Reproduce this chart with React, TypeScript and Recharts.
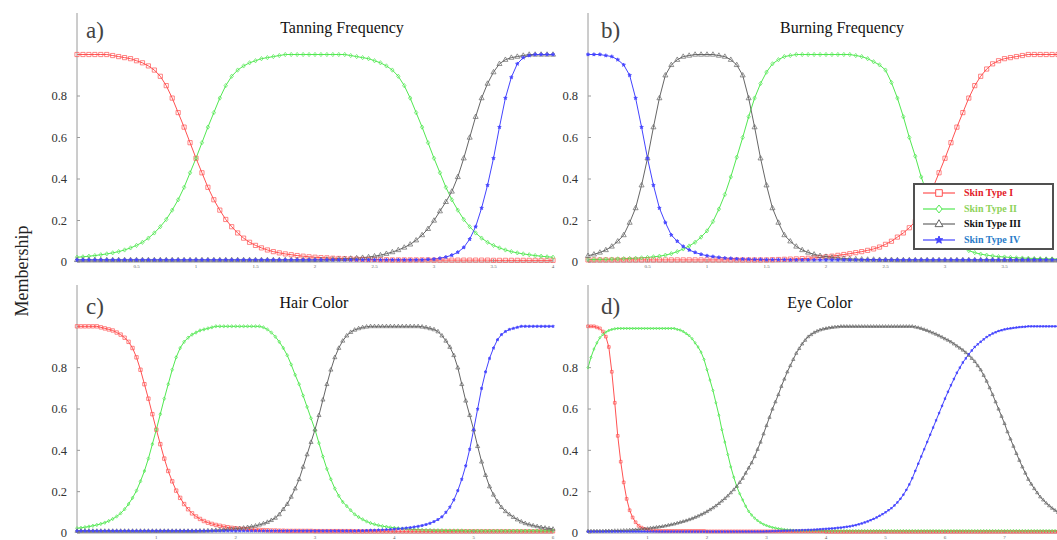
import React from 'react';
import { LineChart, Line, XAxis, YAxis, Legend } from 'recharts';

// sample positions (step 0.05)
const X_GRID = [
  0,0.05,0.1,0.15,0.2,0.25,0.3,0.35,0.4,0.45,0.5,0.55,0.6,0.65,0.7,0.75,0.8,0.85,0.9,0.95,
  1,1.05,1.1,1.15,1.2,1.25,1.3,1.35,1.4,1.45,1.5,1.55,1.6,1.65,1.7,1.75,1.8,1.85,1.9,1.95,
  2,2.05,2.1,2.15,2.2,2.25,2.3,2.35,2.4,2.45,2.5,2.55,2.6,2.65,2.7,2.75,2.8,2.85,2.9,2.95,
  3,3.05,3.1,3.15,3.2,3.25,3.3,3.35,3.4,3.45,3.5,3.55,3.6,3.65,3.7,3.75,3.8,3.85,3.9,3.95,
  4,4.05,4.1,4.15,4.2,4.25,4.3,4.35,4.4,4.45,4.5,4.55,4.6,4.65,4.7,4.75,4.8,4.85,4.9,4.95,
  5,5.05,5.1,5.15,5.2,5.25,5.3,5.35,5.4,5.45,5.5,5.55,5.6,5.65,5.7,5.75,5.8,5.85,5.9,5.95,
  6,6.05,6.1,6.15,6.2,6.25,6.3,6.35,6.4,6.45,6.5,6.55,6.6,6.65,6.7,6.75,6.8,6.85,6.9,6.95,
  7,7.05,7.1,7.15,7.2,7.25,7.3,7.35,7.4,7.45,7.5,7.55,7.6,7.65,7.7,7.75,7.8,7.85,7.9,7.95,
  8,
];
const X_AB = X_GRID.slice(0, 81);
const X_C = X_GRID.slice(0, 121);
const X_D = X_GRID;

const TICKS_AB = [0, 0.5, 1, 1.5, 2, 2.5, 3, 3.5, 4];
const TICKS_C = [0, 1, 2, 3, 4, 5, 6];
const TICKS_D = [0, 1, 2, 3, 4, 5, 6, 7, 8];
const Y_TICKS = [0, 0.2, 0.4, 0.6, 0.8];

const SERIES_NAMES = ['Skin Type I', 'Skin Type II', 'Skin Type III', 'Skin Type IV'];
const LINE_COLORS = ['#ff5252', '#52e852', '#666666', '#4343ff'];
const LEGEND_TEXT_COLORS = ['#e3202a', '#8fd35a', '#111111', '#2a7cc9'];
const SHAPES = ['square', 'diamond', 'triangle', 'star'];

const PANEL_LABELS = ['a)', 'b)', 'c)', 'd)'];
const PANEL_TITLES = ['Tanning Frequency', 'Burning Frequency', 'Hair Color', 'Eye Color'];

// ---- a) Tanning Frequency (x 0..4)
const A_I = [
  1,1,1,1,1,1,0.995,0.99,0.985,0.98,0.97,0.96,0.945,0.925,0.895,0.85,0.79,0.72,0.65,0.575,
  0.5,0.43,0.36,0.3,0.25,0.205,0.17,0.14,0.115,0.095,0.08,0.068,0.058,0.05,0.044,0.039,0.035,0.031,0.028,0.025,
  0.023,0.021,0.02,0.018,0.017,0.016,0.015,0.014,0.013,0.012,0.012,0.011,0.011,0.01,0.01,0.01,0.01,0.01,0.01,0.01,
  0.009,0.009,0.009,0.009,0.009,0.009,0.009,0.009,0.009,0.009,0.008,0.008,0.008,0.008,0.008,0.008,0.008,0.008,0.008,0.008,
  0.008,
];
const A_II = [
  0.023,0.025,0.028,0.031,0.035,0.039,0.044,0.05,0.058,0.068,0.08,0.095,0.115,0.14,0.17,0.205,0.25,0.3,0.36,0.43,
  0.5,0.575,0.65,0.72,0.79,0.85,0.895,0.925,0.945,0.96,0.97,0.98,0.985,0.99,0.995,1,1,1,1,1,
  1,1,1,1,1,1,0.995,0.99,0.985,0.98,0.97,0.96,0.945,0.925,0.895,0.85,0.79,0.72,0.65,0.575,
  0.5,0.43,0.36,0.3,0.25,0.205,0.17,0.14,0.115,0.095,0.08,0.068,0.058,0.05,0.044,0.039,0.035,0.031,0.028,0.025,
  0.023,
];
const A_III = [
  0.01,0.01,0.01,0.01,0.01,0.01,0.01,0.01,0.01,0.01,0.01,0.01,0.01,0.01,0.01,0.01,0.01,0.01,0.01,0.01,
  0.01,0.01,0.01,0.01,0.01,0.01,0.01,0.01,0.01,0.01,0.01,0.01,0.01,0.01,0.01,0.01,0.01,0.01,0.01,0.01,
  0.01,0.011,0.012,0.013,0.014,0.015,0.017,0.019,0.021,0.024,0.028,0.033,0.04,0.048,0.058,0.07,0.085,0.105,0.13,0.16,
  0.2,0.245,0.29,0.34,0.41,0.5,0.6,0.7,0.79,0.86,0.915,0.955,0.975,0.985,0.99,0.995,1,1,1,1,
  1,
];
const A_IV = [
  0.01,0.01,0.01,0.01,0.01,0.01,0.01,0.01,0.01,0.01,0.01,0.01,0.01,0.01,0.01,0.01,0.01,0.01,0.01,0.01,
  0.01,0.01,0.01,0.01,0.01,0.01,0.01,0.01,0.01,0.01,0.01,0.01,0.01,0.01,0.01,0.01,0.01,0.01,0.01,0.01,
  0.01,0.01,0.01,0.01,0.01,0.01,0.01,0.01,0.01,0.01,0.01,0.01,0.01,0.01,0.01,0.01,0.01,0.01,0.01,0.012,
  0.014,0.018,0.024,0.033,0.047,0.07,0.11,0.17,0.26,0.37,0.5,0.65,0.79,0.89,0.955,0.985,0.995,1,1,1,
  1,
];

// ---- b) Burning Frequency (x 0..4)
const B_I = [
  0.01,0.01,0.01,0.01,0.01,0.01,0.01,0.01,0.01,0.01,0.01,0.01,0.01,0.01,0.01,0.01,0.01,0.01,0.01,0.01,
  0.01,0.01,0.01,0.01,0.01,0.01,0.01,0.01,0.01,0.01,0.01,0.011,0.012,0.013,0.014,0.015,0.016,0.018,0.02,0.022,
  0.025,0.028,0.032,0.036,0.04,0.045,0.05,0.056,0.063,0.072,0.085,0.1,0.12,0.14,0.165,0.195,0.235,0.29,0.36,0.43,
  0.5,0.575,0.65,0.72,0.79,0.85,0.895,0.93,0.955,0.97,0.98,0.985,0.99,0.995,1,1,1,1,1,1,
  1,
];
const B_II = [
  0.012,0.012,0.013,0.013,0.014,0.015,0.016,0.017,0.018,0.02,0.022,0.025,0.028,0.033,0.04,0.05,0.063,0.077,0.095,0.12,
  0.15,0.195,0.255,0.325,0.41,0.505,0.6,0.7,0.79,0.86,0.915,0.955,0.975,0.99,0.995,1,1,1,1,1,
  1,1,1,1,1,0.995,0.99,0.98,0.965,0.95,0.925,0.865,0.79,0.7,0.6,0.51,0.41,0.33,0.255,0.195,
  0.15,0.115,0.09,0.07,0.055,0.045,0.038,0.033,0.029,0.026,0.024,0.022,0.02,0.019,0.018,0.017,0.016,0.015,0.015,0.014,
  0.014,
];
const B_III = [
  0.03,0.037,0.046,0.058,0.075,0.1,0.13,0.19,0.26,0.37,0.5,0.65,0.79,0.9,0.95,0.975,0.99,0.995,1,1,
  1,1,0.995,0.99,0.975,0.95,0.9,0.79,0.65,0.5,0.37,0.26,0.19,0.13,0.1,0.075,0.058,0.046,0.037,0.03,
  0.026,0.022,0.019,0.017,0.015,0.014,0.013,0.012,0.012,0.011,0.011,0.011,0.01,0.01,0.01,0.01,0.01,0.01,0.01,0.01,
  0.01,0.01,0.01,0.01,0.01,0.01,0.01,0.01,0.01,0.01,0.01,0.01,0.01,0.01,0.01,0.01,0.01,0.01,0.01,0.01,
  0.01,
];
const B_IV = [
  1,1,1,0.995,0.99,0.975,0.95,0.9,0.79,0.65,0.5,0.37,0.26,0.19,0.13,0.1,0.075,0.058,0.046,0.037,
  0.03,0.026,0.022,0.019,0.017,0.015,0.014,0.013,0.012,0.012,0.011,0.011,0.011,0.011,0.01,0.01,0.01,0.01,0.01,0.01,
  0.01,0.01,0.01,0.01,0.01,0.01,0.01,0.01,0.01,0.01,0.01,0.01,0.01,0.01,0.01,0.01,0.01,0.01,0.01,0.01,
  0.01,0.01,0.01,0.01,0.01,0.01,0.01,0.01,0.01,0.01,0.01,0.01,0.01,0.01,0.01,0.01,0.01,0.01,0.01,0.01,
  0.01,
];

// ---- c) Hair Color (x 0..6)
const C_I = [
  1,1,1,1,1,1,0.995,0.99,0.985,0.98,0.97,0.96,0.945,0.925,0.895,0.85,0.79,0.72,0.65,0.575,
  0.5,0.43,0.36,0.3,0.25,0.205,0.17,0.14,0.115,0.095,0.08,0.068,0.058,0.05,0.044,0.039,0.035,0.031,0.028,0.025,
  0.023,0.021,0.02,0.018,0.017,0.016,0.015,0.014,0.013,0.012,0.012,0.011,0.011,0.01,0.01,0.01,0.01,0.01,0.01,0.01,
  0.009,0.009,0.009,0.009,0.009,0.009,0.009,0.009,0.009,0.009,0.008,0.008,0.008,0.008,0.008,0.008,0.008,0.008,0.008,0.008,
  0.008,0.008,0.008,0.008,0.008,0.008,0.008,0.008,0.008,0.008,0.008,0.008,0.008,0.008,0.008,0.008,0.008,0.008,0.008,0.008,
  0.008,0.008,0.008,0.008,0.008,0.008,0.008,0.008,0.008,0.008,0.008,0.008,0.008,0.008,0.008,0.008,0.008,0.008,0.008,0.008,
  0.008,
];
const C_II = [
  0.023,0.025,0.028,0.031,0.035,0.039,0.044,0.05,0.058,0.068,0.08,0.095,0.115,0.14,0.17,0.205,0.25,0.3,0.36,0.43,
  0.5,0.575,0.65,0.72,0.79,0.85,0.895,0.925,0.945,0.96,0.97,0.98,0.985,0.99,0.995,1,1,1,1,1,
  1,1,1,1,1,1,1,0.995,0.985,0.97,0.95,0.925,0.895,0.86,0.815,0.765,0.72,0.665,0.61,0.555,
  0.5,0.435,0.37,0.31,0.26,0.215,0.18,0.15,0.13,0.11,0.09,0.077,0.066,0.056,0.048,0.042,0.037,0.033,0.03,0.027,
  0.025,0.023,0.021,0.02,0.018,0.017,0.016,0.015,0.014,0.014,0.013,0.013,0.013,0.012,0.012,0.012,0.012,0.012,0.011,0.011,
  0.011,0.011,0.011,0.011,0.011,0.011,0.011,0.011,0.011,0.011,0.011,0.011,0.011,0.011,0.011,0.011,0.011,0.011,0.011,0.011,
  0.011,
];
const C_III = [
  0.01,0.01,0.01,0.01,0.01,0.01,0.01,0.01,0.01,0.01,0.01,0.01,0.01,0.01,0.01,0.01,0.01,0.01,0.01,0.01,
  0.01,0.01,0.01,0.01,0.01,0.01,0.01,0.01,0.01,0.01,0.01,0.011,0.011,0.012,0.013,0.014,0.015,0.016,0.018,0.019,
  0.021,0.023,0.025,0.028,0.031,0.035,0.04,0.046,0.053,0.062,0.073,0.09,0.115,0.14,0.175,0.215,0.26,0.32,0.38,0.44,
  0.5,0.57,0.645,0.72,0.79,0.85,0.895,0.93,0.955,0.972,0.983,0.99,0.995,0.998,1,1,1,1,1,1,
  1,1,1,1,1,1,1,0.998,0.995,0.99,0.985,0.975,0.955,0.93,0.9,0.86,0.8,0.72,0.64,0.57,
  0.5,0.42,0.345,0.28,0.225,0.185,0.152,0.125,0.105,0.09,0.077,0.065,0.055,0.047,0.041,0.036,0.032,0.028,0.025,0.022,
  0.02,
];
const C_IV = [
  0.01,0.01,0.01,0.01,0.01,0.01,0.01,0.01,0.01,0.01,0.01,0.01,0.01,0.01,0.01,0.01,0.01,0.01,0.01,0.01,
  0.01,0.01,0.01,0.01,0.01,0.01,0.01,0.01,0.01,0.01,0.01,0.01,0.01,0.01,0.01,0.01,0.01,0.01,0.01,0.01,
  0.01,0.01,0.01,0.01,0.01,0.01,0.01,0.01,0.01,0.01,0.01,0.01,0.01,0.01,0.01,0.01,0.01,0.01,0.01,0.01,
  0.01,0.01,0.01,0.01,0.01,0.01,0.01,0.01,0.01,0.01,0.01,0.011,0.011,0.012,0.013,0.013,0.014,0.015,0.016,0.017,
  0.019,0.02,0.022,0.024,0.026,0.029,0.032,0.036,0.041,0.047,0.055,0.065,0.078,0.1,0.125,0.16,0.205,0.26,0.325,0.405,
  0.5,0.6,0.7,0.78,0.845,0.895,0.935,0.96,0.975,0.985,0.99,0.995,1,1,1,1,1,1,1,1,
  1,
];

// ---- d) Eye Color (x 0..8)
const D_I = [
  1,1,1,0.995,0.99,0.975,0.95,0.9,0.78,0.63,0.47,0.345,0.245,0.165,0.11,0.075,0.052,0.035,0.026,0.02,
  0.016,0.013,0.012,0.011,0.01,0.01,0.01,0.01,0.01,0.01,0.01,0.01,0.01,0.01,0.01,0.01,0.01,0.01,0.01,0.01,
  0.008,0.008,0.008,0.008,0.008,0.008,0.008,0.008,0.008,0.008,0.008,0.008,0.008,0.008,0.008,0.008,0.008,0.008,0.008,0.008,
  0.008,0.008,0.008,0.008,0.008,0.008,0.008,0.008,0.008,0.008,0.008,0.008,0.008,0.008,0.008,0.008,0.008,0.008,0.008,0.008,
  0.006,0.006,0.006,0.006,0.006,0.006,0.006,0.006,0.006,0.006,0.006,0.006,0.006,0.006,0.006,0.006,0.006,0.006,0.006,0.006,
  0.006,0.006,0.006,0.006,0.006,0.006,0.006,0.006,0.006,0.006,0.006,0.006,0.006,0.006,0.006,0.006,0.006,0.006,0.006,0.006,
  0.006,0.006,0.006,0.006,0.006,0.006,0.006,0.006,0.006,0.006,0.006,0.006,0.006,0.006,0.006,0.006,0.006,0.006,0.006,0.006,
  0.006,0.006,0.006,0.006,0.006,0.006,0.006,0.006,0.006,0.006,0.006,0.006,0.006,0.006,0.006,0.006,0.006,0.006,0.006,0.006,
  0.006,
];
const D_II = [
  0.8,0.85,0.89,0.92,0.945,0.96,0.972,0.98,0.985,0.988,0.99,0.99,0.99,0.99,0.99,0.99,0.99,0.99,0.99,0.99,
  0.99,0.99,0.99,0.99,0.99,0.99,0.99,0.99,0.99,0.99,0.985,0.982,0.975,0.965,0.955,0.94,0.92,0.9,0.875,0.84,
  0.79,0.74,0.69,0.63,0.57,0.5,0.44,0.38,0.32,0.27,0.225,0.19,0.16,0.13,0.105,0.087,0.072,0.06,0.05,0.042,
  0.036,0.031,0.027,0.024,0.021,0.019,0.017,0.015,0.014,0.013,0.012,0.012,0.012,0.012,0.012,0.012,0.012,0.012,0.012,0.012,
  0.011,0.011,0.011,0.011,0.011,0.011,0.011,0.011,0.011,0.011,0.011,0.011,0.011,0.011,0.011,0.011,0.011,0.011,0.011,0.011,
  0.011,0.011,0.011,0.011,0.011,0.011,0.011,0.011,0.011,0.011,0.011,0.011,0.011,0.011,0.011,0.011,0.011,0.011,0.011,0.011,
  0.011,0.011,0.011,0.011,0.011,0.011,0.011,0.011,0.011,0.011,0.011,0.011,0.011,0.011,0.011,0.011,0.011,0.011,0.011,0.011,
  0.011,0.011,0.011,0.011,0.011,0.011,0.011,0.011,0.011,0.011,0.011,0.011,0.011,0.011,0.011,0.011,0.011,0.011,0.011,0.011,
  0.011,
];
const D_III = [
  0.01,0.01,0.01,0.01,0.01,0.01,0.011,0.011,0.011,0.012,0.012,0.012,0.013,0.013,0.014,0.015,0.016,0.017,0.019,0.02,
  0.022,0.024,0.026,0.028,0.03,0.032,0.035,0.038,0.041,0.044,0.048,0.052,0.056,0.06,0.065,0.07,0.076,0.082,0.089,0.096,
  0.104,0.113,0.122,0.132,0.143,0.155,0.167,0.18,0.195,0.21,0.226,0.245,0.265,0.29,0.315,0.34,0.37,0.405,0.44,0.48,
  0.52,0.56,0.6,0.635,0.67,0.71,0.745,0.78,0.81,0.84,0.87,0.893,0.915,0.933,0.95,0.96,0.97,0.977,0.983,0.987,
  0.99,0.993,0.995,0.997,0.998,1,1,1,1,1,1,1,1,1,1,1,1,1,1,1,
  1,1,1,1,1,1,1,1,1,1,0.997,0.994,0.99,0.985,0.98,0.974,0.968,0.962,0.955,0.948,
  0.94,0.933,0.925,0.915,0.905,0.895,0.885,0.873,0.86,0.845,0.83,0.81,0.79,0.763,0.735,0.703,0.67,0.635,0.6,0.565,
  0.53,0.49,0.455,0.42,0.385,0.352,0.32,0.29,0.26,0.237,0.215,0.195,0.175,0.16,0.145,0.132,0.12,0.11,0.1,0.091,
  0.083,
];
const D_IV = [
  0.007,0.007,0.007,0.007,0.007,0.007,0.007,0.007,0.007,0.007,0.007,0.007,0.007,0.007,0.007,0.007,0.007,0.007,0.007,0.007,
  0.007,0.007,0.007,0.007,0.007,0.007,0.007,0.007,0.007,0.007,0.007,0.007,0.007,0.007,0.007,0.007,0.007,0.007,0.007,0.007,
  0.007,0.007,0.007,0.007,0.007,0.007,0.007,0.007,0.007,0.007,0.007,0.007,0.007,0.007,0.007,0.007,0.007,0.007,0.007,0.007,
  0.008,0.008,0.009,0.009,0.01,0.01,0.011,0.011,0.012,0.012,0.013,0.013,0.014,0.014,0.015,0.015,0.016,0.017,0.018,0.019,
  0.02,0.021,0.022,0.023,0.025,0.026,0.028,0.03,0.032,0.035,0.038,0.042,0.046,0.051,0.056,0.062,0.068,0.075,0.083,0.091,
  0.1,0.11,0.12,0.133,0.148,0.165,0.185,0.208,0.235,0.265,0.3,0.335,0.37,0.405,0.44,0.475,0.51,0.545,0.58,0.615,
  0.65,0.683,0.715,0.745,0.775,0.8,0.825,0.845,0.865,0.883,0.9,0.913,0.925,0.937,0.948,0.957,0.965,0.971,0.977,0.981,
  0.985,0.988,0.99,0.992,0.994,0.996,0.997,0.998,1,1,1,1,1,1,1,1,1,1,1,1,
  1,
];

const FONT = '"Liberation Serif", "DejaVu Serif", serif';
const AXIS_COLOR = '#9a9a9a';

function markerPath(shape: string, cx: number, cy: number, s: number): string {
  if (shape === 'square') {
    return `M${cx - s},${cy - s}h${2 * s}v${2 * s}h${-2 * s}Z`;
  }
  if (shape === 'diamond') {
    return `M${cx},${cy - s * 1.2}L${cx + s * 0.95},${cy}L${cx},${cy + s * 1.2}L${cx - s * 0.95},${cy}Z`;
  }
  if (shape === 'triangle') {
    return `M${cx},${cy - s * 1.3}L${cx + s * 1.2},${cy + s * 0.8}L${cx - s * 1.2},${cy + s * 0.8}Z`;
  }
  let d = '';
  for (let i = 0; i < 10; i++) {
    const r = i % 2 === 0 ? s * 1.2 : s * 0.5;
    const a = -Math.PI / 2 + (i * Math.PI) / 5;
    d += `${i === 0 ? 'M' : 'L'}${cx + r * Math.cos(a)},${cy + r * Math.sin(a)}`;
  }
  return d + 'Z';
}

function makeDot(shape: string, color: string, s: number) {
  const size = shape === 'star' ? s * 0.75 : shape === 'diamond' ? s * 0.85 : s;
  return (props: any) => {
    const { cx, cy, index } = props;
    if (typeof cx !== 'number' || typeof cy !== 'number') return <g key={`e${index}`} />;
    return (
      <path
        key={`m${index}`}
        d={markerPath(shape, cx, cy, size)}
        fill={shape === 'star' ? color : 'none'}
        stroke={color}
        strokeWidth={0.7}
      />
    );
  };
}

function LegendBox() {
  return (
    <div
      style={{
        width: 141,
        height: 67,
        border: '2px solid #505050',
        boxSizing: 'border-box',
        background: '#ffffff',
        position: 'relative',
        fontFamily: FONT,
      }}
    >
      {SERIES_NAMES.map((name, k) => (
        <div
          key={name}
          style={{ position: 'absolute', left: 7, top: 1 + k * 15.7, height: 14, display: 'flex', alignItems: 'center' }}
        >
          <svg width={34} height={14} style={{ display: 'block' }}>
            <line x1={1} y1={7} x2={33} y2={7} stroke={LINE_COLORS[k]} strokeWidth={1.2} />
            <path
              d={markerPath(SHAPES[k], 17, 7, 3.3)}
              fill={SHAPES[k] === 'star' ? LINE_COLORS[k] : '#ffffff'}
              stroke={LINE_COLORS[k]}
              strokeWidth={1}
            />
          </svg>
          <span
            style={{
              marginLeft: 8,
              fontSize: 10,
              fontWeight: 'bold',
              color: LEGEND_TEXT_COLORS[k],
              whiteSpace: 'nowrap',
              lineHeight: '14px',
            }}
          >
            {name}
          </span>
        </div>
      ))}
    </div>
  );
}

type PanelCfg = {
  left: number;
  top: number;
  w: number;
  h: number;
  mt: number;
  mb: number;
  xh: number;
  yw: number;
  mr: number;
  xs: number[];
  series: number[][];
  xMax: number;
  ticks: number[];
  s: number;
  lastLabelVisible: boolean;
  legend?: boolean;
};

const PANELS: PanelCfg[] = [
  { left: 0, top: 0, w: 563, h: 280, mt: 13, mb: 6, xh: 12, yw: 77, mr: 10, xs: X_AB, series: [A_I, A_II, A_III, A_IV], xMax: 4, ticks: TICKS_AB, s: 2.1, lastLabelVisible: true },
  { left: 540, top: 0, w: 535, h: 280, mt: 13, mb: 6, xh: 12, yw: 48, mr: 11, xs: X_AB, series: [B_I, B_II, B_III, B_IV], xMax: 4, ticks: TICKS_AB, s: 2.1, lastLabelVisible: false, legend: true },
  { left: 0, top: 272, w: 563, h: 268, mt: 13, mb: 0, xh: 7, yw: 77, mr: 10, xs: X_C, series: [C_I, C_II, C_III, C_IV], xMax: 6, ticks: TICKS_C, s: 1.7, lastLabelVisible: true },
  { left: 540, top: 272, w: 535, h: 268, mt: 13, mb: 0, xh: 7, yw: 48, mr: 11, xs: X_D, series: [D_I, D_II, D_III, D_IV], xMax: 8, ticks: TICKS_D, s: 1.35, lastLabelVisible: false },
];

// overlay text placement (layout only)
const LABEL_POS = [
  { x: 86, y: 18 },
  { x: 601, y: 18 },
  { x: 86, y: 294 },
  { x: 601, y: 294 },
];
const TITLE_POS = [
  { cx: 342, y: 19 },
  { cx: 842, y: 19 },
  { cx: 314, y: 294 },
  { cx: 820, y: 294 },
];

function Panel({ cfg }: { cfg: PanelCfg }) {
  const data = cfg.xs.map((x, i) => ({
    x,
    s0: cfg.series[0][i],
    s1: cfg.series[1][i],
    s2: cfg.series[2][i],
    s3: cfg.series[3][i],
  }));
  const xTickFmt = (v: number) =>
    v === 0 || (!cfg.lastLabelVisible && v === cfg.xMax) ? '' : String(v);
  return (
    <div style={{ position: 'absolute', left: cfg.left, top: cfg.top }}>
      <LineChart
        width={cfg.w}
        height={cfg.h}
        data={data}
        margin={{ top: cfg.mt, right: cfg.mr, bottom: cfg.mb, left: 0 }}
      >
        <XAxis
          dataKey="x"
          type="number"
          domain={[0, cfg.xMax]}
          ticks={cfg.ticks}
          interval={0}
          height={cfg.xh}
          tickSize={-3}
          tickMargin={5}
          tickFormatter={xTickFmt}
          stroke={AXIS_COLOR}
          tick={{ fontSize: 5, fill: '#666', fontFamily: FONT }}
        />
        <XAxis
          xAxisId="top"
          orientation="top"
          dataKey="x"
          type="number"
          domain={[0, cfg.xMax]}
          ticks={cfg.ticks}
          interval={0}
          height={0}
          tickSize={-3}
          tickFormatter={() => ''}
          stroke={AXIS_COLOR}
        />
        <YAxis
          type="number"
          domain={[0, 1.2]}
          ticks={Y_TICKS}
          interval={0}
          width={cfg.yw}
          tickSize={-3}
          tickMargin={13}
          tickFormatter={(v: number) => String(v)}
          stroke={AXIS_COLOR}
          tick={{ fontSize: 12.5, fill: '#333', fontFamily: FONT }}
        />
        <YAxis
          yAxisId="right"
          orientation="right"
          type="number"
          domain={[0, 1.2]}
          ticks={Y_TICKS}
          interval={0}
          width={0}
          tickSize={-3}
          tickFormatter={() => ''}
          stroke={AXIS_COLOR}
        />
        {[0, 1, 2, 3].map((k) => (
          <Line
            key={k}
            type="linear"
            dataKey={`s${k}`}
            name={SERIES_NAMES[k]}
            stroke={LINE_COLORS[k]}
            strokeWidth={1}
            dot={makeDot(SHAPES[k], LINE_COLORS[k], cfg.s)}
            activeDot={false}
            isAnimationActive={false}
          />
        ))}
        {cfg.legend && (
          <Legend
            layout="vertical"
            align="center"
            verticalAlign="middle"
            content={() => <LegendBox />}
            wrapperStyle={{ left: 373, top: 183, width: 141, height: 67 }}
          />
        )}
      </LineChart>
    </div>
  );
}

export default function App() {
  return (
    <div
      style={{
        position: 'absolute',
        left: 0,
        top: 0,
        width: 1057,
        height: 540,
        overflow: 'hidden',
        background: '#ffffff',
        fontFamily: FONT,
      }}
    >
      {PANELS.map((cfg, i) => (
        <Panel key={i} cfg={cfg} />
      ))}
      {PANEL_LABELS.map((t, i) => (
        <div
          key={t}
          style={{
            position: 'absolute',
            left: LABEL_POS[i].x,
            top: LABEL_POS[i].y,
            fontSize: 23,
            lineHeight: '26px',
            color: '#444',
          }}
        >
          {t}
        </div>
      ))}
      {PANEL_TITLES.map((t, i) => (
        <div
          key={t}
          style={{
            position: 'absolute',
            left: TITLE_POS[i].cx - 120,
            width: 240,
            top: TITLE_POS[i].y,
            textAlign: 'center',
            fontSize: 16,
            lineHeight: '18px',
            color: '#111',
          }}
        >
          {t}
        </div>
      ))}
      <div
        style={{
          position: 'absolute',
          left: -38,
          top: 259,
          width: 120,
          height: 24,
          lineHeight: '24px',
          textAlign: 'center',
          fontSize: 18,
          color: '#222',
          transform: 'rotate(-90deg)',
        }}
      >
        Membership
      </div>
    </div>
  );
}
